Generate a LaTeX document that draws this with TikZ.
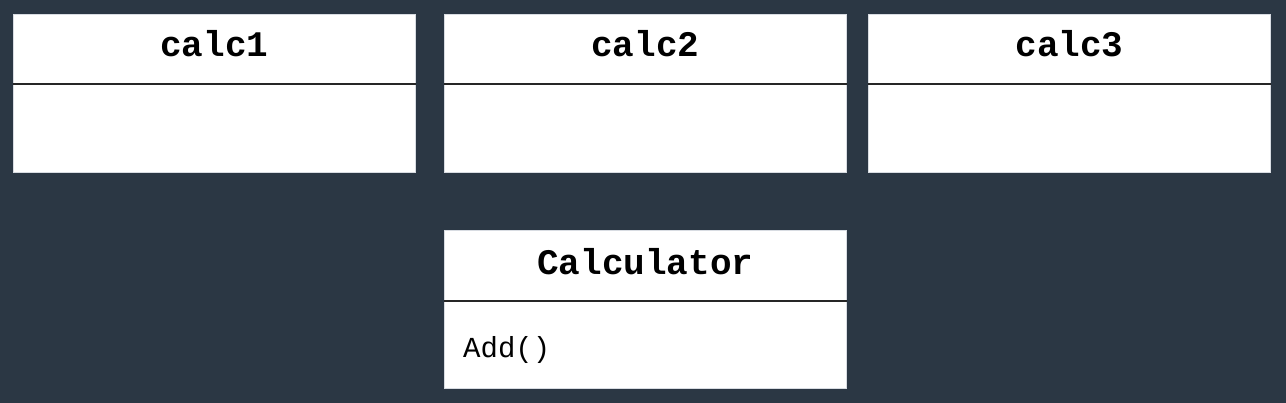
\documentclass[tikz,border=0pt]{standalone}
\usepackage{fontspec}
\setmonofont{Liberation Mono}
\definecolor{bg}{HTML}{2B3744}
\definecolor{edge}{HTML}{D8DCE2}
\begin{document}
\begin{tikzpicture}[x=1pt,y=-1pt,
  classbox/.style={draw=edge,line width=0.8pt,fill=white,inner sep=0pt,anchor=north west,minimum width=402pt,minimum height=158pt},
  divider/.style={draw=black!85,line width=1.8pt},
  title/.style={font=\ttfamily\bfseries\fontsize{36}{36}\selectfont,anchor=base,inner sep=0pt},
  member/.style={font=\ttfamily\fontsize{29}{29}\selectfont,anchor=base west,inner sep=0pt}]
\fill[bg] (0,0) rectangle (1286,403);
\useasboundingbox (0,0) rectangle (1286,403);
\node[classbox] (b1) at (13,14) {};
\node[classbox] (b2) at (444,14) {};
\node[classbox] (b3) at (868,14) {};
\node[classbox] (b4) at (444,230) {};
\draw[divider] ([yshift=-70pt]b1.north west) -- ([yshift=-70pt]b1.north east);
\draw[divider] ([yshift=-70pt]b2.north west) -- ([yshift=-70pt]b2.north east);
\draw[divider] ([yshift=-70pt]b3.north west) -- ([yshift=-70pt]b3.north east);
\draw[divider] ([yshift=-71pt]b4.north west) -- ([yshift=-71pt]b4.north east);
\node[title] (t1) at ([yshift=-43pt]b1.north) {calc1};
\node[title] (t2) at ([yshift=-43pt]b2.north) {calc2};
\node[title] (t3) at ([yshift=-43pt]b3.north) {calc3};
\node[title] (t4) at ([yshift=-45pt]b4.north) {Calculator};
\node[member] (m4) at ([xshift=19pt,yshift=-128pt]b4.north west) {Add()};
\end{tikzpicture}
\end{document}
